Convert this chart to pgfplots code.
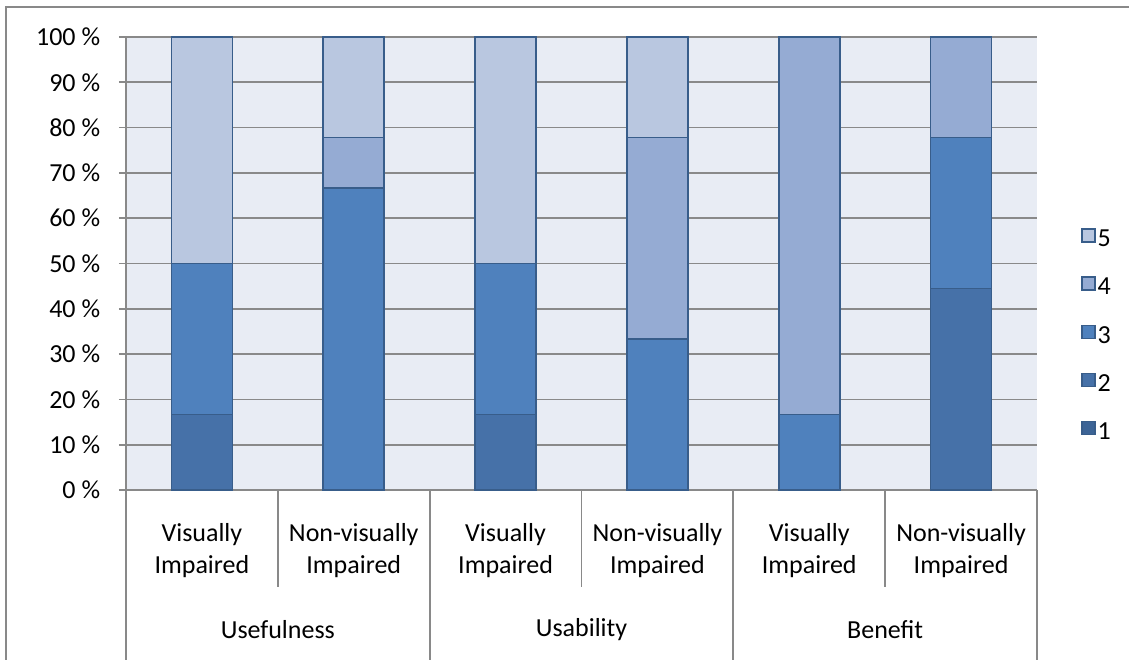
\documentclass[border=0pt]{standalone}
\usepackage{fontspec}
\setmainfont{Carlito}
\usepackage{pgfplots}
\pgfplotsset{compat=1.18}

\definecolor{cA}{HTML}{3C6496}
\definecolor{cB}{HTML}{4671A8}
\definecolor{cC}{HTML}{4F81BD}
\definecolor{cD}{HTML}{95ABD3}
\definecolor{cE}{HTML}{B9C7E0}
\definecolor{edge}{HTML}{385D8A}
\definecolor{bg}{HTML}{E8ECF4}
\definecolor{gridc}{HTML}{898989}

\pgfplotsset{
  sq/.style={fill=#1, draw=edge, line width=1.6pt,
    legend image code/.code={\draw[##1, line width=1.3pt] (0pt,-1.5pt) rectangle (13pt,11.5pt);}},
}

\begin{document}
\begin{tikzpicture}[x=1pt,y=1pt]
\useasboundingbox (0,0) rectangle (1129,659);
\fontsize{26}{32}\selectfont

% outer chart border (clipped by the page)
\draw[gridc, line width=1.8pt] (6,-5) -- (6,652) -- (1135,652);

\begin{axis}[
  at={(126pt,169pt)}, anchor=south west,
  scale only axis, width=911pt, height=453pt,
  ybar stacked, bar width=61pt,
  xmin=-0.5, xmax=5.5, ymin=0, ymax=100,
  axis background/.style={fill=bg},
  axis x line=bottom, axis y line=left,
  axis line style={gridc, line width=1.8pt, -},
  ytick={0,10,...,100},
  yticklabels={0 \%,10 \%,20 \%,30 \%,40 \%,50 \%,60 \%,70 \%,80 \%,90 \%,100 \%},
  yticklabel style={font=\fontsize{26}{30}\selectfont, anchor=east, xshift=-10pt},
  tick align=outside, major tick length=7pt,
  tick style={gridc, line width=1.8pt},
  ymajorgrids, grid style={gridc, line width=1.8pt},
  xtick=\empty,
  clip=false,
  reverse legend,
  legend style={at={(rel axis cs:1.0483,0.338)}, anchor=west, draw=none, fill=none,
    inner sep=0pt, row sep=23.5pt, font=\fontsize{26}{30}\selectfont,
    /tikz/every even column/.append style={column sep=2pt}},
  legend cell align=left,
]
% 1
\addplot[sq=cA] coordinates {(0,0) (1,0) (2,0) (3,0) (4,0) (5,0)};
% 2
\addplot[sq=cB] coordinates {(0,16.67) (1,0) (2,16.67) (3,0) (4,0) (5,44.44)};
% 3
\addplot[sq=cC] coordinates {(0,33.33) (1,66.67) (2,33.33) (3,33.33) (4,16.67) (5,33.33)};
% 4
\addplot[sq=cD] coordinates {(0,0) (1,11.11) (2,0) (3,44.45) (4,83.33) (5,22.23)};
% 5
\addplot[sq=cE] coordinates {(0,50) (1,22.22) (2,50) (3,22.22) (4,0) (5,0)};
\legend{1,2,3,4,5}
\end{axis}

% category separators
\foreach \k in {0,2,4,6} {
  \draw[gridc, line width=1.8pt] ({126+\k*151.833},169) -- ({126+\k*151.833},-5);
}
\foreach \k in {1,3,5} {
  \draw[gridc, line width=1.8pt] ({126+\k*151.833},169) -- ({126+\k*151.833},72);
}

% category labels
\foreach \k/\lab in {0/{Visually\\Impaired},1/{Non-visually\\Impaired},2/{Visually\\Impaired},
                     3/{Non-visually\\Impaired},4/{Visually\\Impaired},5/{Non-visually\\Impaired}} {
  \node[align=center, inner sep=0pt, font=\fontsize{26}{32}\selectfont]
    at ({126+(\k+0.5)*151.833},108) {\lab};
}
\foreach \k/\lab in {0/Usefulness,1/Usability,2/Benefit} {
  \node[inner sep=0pt, font=\fontsize{26}{32}\selectfont]
    at ({126+(2*\k+1)*151.833},29) {\lab};
}
\end{tikzpicture}
\end{document}
